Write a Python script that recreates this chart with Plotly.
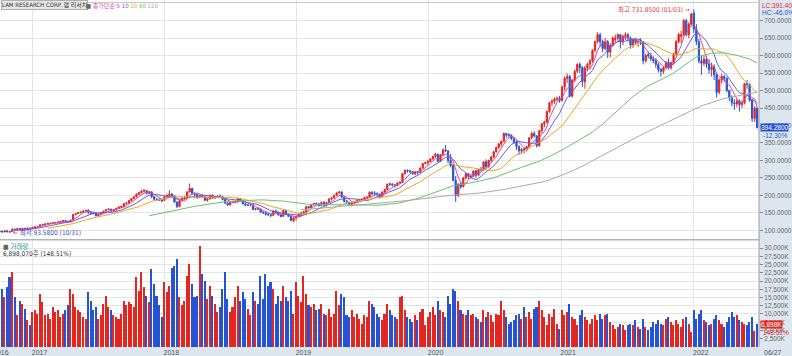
import pandas as pd
import plotly.graph_objects as go

# ---------------- data (weekly, LAM RESEARCH) ----------------
WEEK_START = "2016-10-03"
N_WEEKS = 300

open_ = [
    96.0, 97.5, 95.5, 98.6, 96.0, 96.5, 103.0, 102.0, 105.5, 101.5, 106.0, 105.0, 106.5,
    106.0, 108.5, 110.0, 110.8, 116.0, 117.0, 118.5, 120.0, 120.0, 122.0, 122.5, 124.0, 125.5,
    128.0, 126.0, 124.0, 130.0, 145.0, 148.0, 151.0, 152.0, 155.5, 157.5, 152.0, 149.0, 148.0,
    141.5, 145.0, 150.5, 155.0, 159.0, 160.5, 155.5, 158.5, 163.0, 167.0, 168.0, 176.0, 178.0,
    185.0, 191.0, 196.0, 203.0, 208.0, 212.0, 214.0, 206.0, 210.0, 196.0, 189.0, 188.0, 187.0,
    186.0, 196.0, 200.0, 204.0, 199.0, 181.0, 168.0, 185.0, 192.0, 193.0, 210.0, 220.0, 205.0,
    203.0, 195.0, 200.0, 196.0, 186.0, 190.0, 200.0, 193.0, 197.0, 198.0, 196.0, 188.0, 178.0,
    173.0, 180.0, 181.0, 182.0, 191.0, 185.0, 176.0, 172.0, 172.0, 173.0, 160.0, 162.0, 161.0,
    152.0, 150.0, 146.0, 145.0, 143.0, 155.0, 152.0, 144.0, 140.0, 157.0, 145.0, 140.0, 128.0,
    136.0, 140.0, 146.0, 150.0, 153.0, 168.0, 165.0, 173.0, 177.0, 176.0, 171.0, 180.0, 172.0,
    179.0, 190.0, 193.0, 200.0, 207.0, 210.0, 195.0, 183.0, 180.0, 174.0, 178.0, 180.0, 186.0,
    188.0, 189.0, 194.0, 195.0, 209.0, 207.0, 205.0, 203.0, 197.0, 210.0, 217.0, 233.5, 232.0,
    230.0, 228.0, 236.0, 237.0, 262.0, 272.0, 270.0, 268.0, 262.0, 267.0, 266.0, 278.0, 291.0,
    294.0, 297.0, 304.0, 311.0, 318.0, 298.0, 316.0, 330.0, 327.0, 300.0, 285.0, 243.0, 200.0,
    232.0, 225.0, 250.0, 262.0, 253.0, 255.0, 270.0, 258.0, 274.0, 273.0, 296.0, 283.0, 300.0,
    310.0, 325.0, 337.0, 347.0, 355.0, 377.0, 374.0, 372.0, 362.0, 352.0, 340.0, 327.0, 333.0,
    331.0, 340.0, 365.0, 377.0, 370.0, 342.0, 385.0, 405.0, 410.0, 440.0, 465.0, 470.0, 476.0,
    478.0, 472.0, 510.0, 535.0, 540.0, 484.0, 530.0, 555.0, 575.0, 566.0, 525.0, 565.0, 575.0,
    585.0, 615.0, 640.0, 660.0, 640.0, 620.0, 640.0, 610.0, 630.0, 646.0, 650.0, 660.0, 640.0,
    655.0, 660.0, 650.0, 630.0, 645.0, 637.0, 644.0, 640.0, 585.0, 603.0, 600.0, 590.0, 585.0,
    575.0, 560.0, 555.0, 565.0, 580.0, 565.0, 580.0, 605.0, 640.0, 655.0, 660.0, 700.0, 660.0,
    690.0, 722.0, 676.0, 640.0, 585.0, 578.0, 590.0, 575.0, 560.0, 568.0, 545.0, 495.0, 530.0,
    540.0, 535.0, 500.0, 480.0, 465.0, 462.0, 470.0, 460.0, 465.0, 520.0, 518.0, 472.0, 420.0, 449.6,
]
high = [
    98.5, 98.8, 99.6, 99.5, 97.5, 106.0, 104.8, 106.0, 106.4, 106.5, 107.5, 107.0, 107.0,
    109.5, 111.5, 112.0, 117.5, 118.5, 119.5, 121.0, 121.5, 123.0, 124.0, 125.0, 127.0, 129.5,
    129.0, 127.0, 130.0, 147.0, 149.5, 152.5, 154.0, 156.5, 159.0, 160.0, 154.0, 152.0, 149.0,
    146.5, 151.5, 156.0, 161.0, 164.0, 162.0, 160.0, 164.5, 168.5, 170.5, 177.5, 181.0, 187.0,
    193.0, 198.0, 206.0, 210.5, 216.0, 219.0, 215.0, 213.0, 212.0, 198.0, 193.0, 192.0, 188.0,
    197.0, 203.0, 215.0, 206.0, 201.0, 183.0, 187.0, 194.0, 199.0, 212.0, 234.0, 222.0, 209.0,
    205.0, 202.0, 204.0, 198.0, 192.0, 202.0, 203.0, 199.0, 201.0, 203.0, 198.0, 190.0, 180.0,
    181.5, 184.0, 185.0, 193.0, 192.0, 187.0, 178.0, 175.0, 175.0, 174.0, 164.0, 164.0, 162.0,
    155.0, 152.0, 150.0, 148.0, 157.0, 160.0, 154.0, 147.0, 159.0, 158.0, 148.0, 142.0, 137.0,
    141.0, 148.0, 151.5, 155.0, 170.0, 170.0, 174.5, 179.0, 180.0, 178.0, 182.0, 184.0, 181.0,
    191.0, 195.0, 202.0, 209.0, 212.0, 211.0, 197.0, 187.0, 182.0, 180.0, 183.0, 188.0, 190.0,
    191.0, 196.0, 197.0, 211.0, 212.0, 212.0, 209.0, 205.0, 211.0, 219.0, 234.0, 236.0, 235.0,
    233.0, 238.0, 241.0, 265.0, 274.0, 274.0, 273.0, 270.0, 268.0, 270.0, 280.0, 293.0, 296.0,
    301.0, 307.0, 314.0, 322.0, 319.0, 318.0, 335.0, 344.0, 330.0, 318.0, 290.0, 255.0, 235.0,
    238.0, 252.0, 265.0, 264.0, 262.0, 272.0, 274.0, 276.0, 282.0, 298.0, 303.0, 302.0, 313.0,
    327.0, 340.0, 350.0, 357.0, 380.0, 379.0, 378.0, 375.0, 365.0, 358.0, 343.0, 336.0, 337.0,
    342.0, 367.0, 382.0, 384.0, 373.0, 388.0, 407.0, 414.0, 443.0, 468.0, 475.0, 480.0, 483.0,
    485.0, 514.0, 540.0, 549.0, 545.0, 533.0, 560.0, 578.0, 580.0, 570.0, 570.0, 580.0, 590.0,
    618.0, 643.0, 667.0, 665.0, 646.0, 650.0, 645.0, 635.0, 655.0, 660.0, 664.0, 662.0, 660.0,
    667.0, 665.0, 655.0, 648.0, 650.0, 645.0, 650.0, 642.0, 605.0, 612.0, 608.0, 598.0, 592.0,
    580.0, 565.0, 570.0, 585.0, 592.0, 583.0, 608.0, 645.0, 665.0, 672.0, 705.0, 706.0, 695.0,
    722.0, 731.85, 690.0, 648.0, 600.0, 600.0, 598.0, 590.0, 580.0, 575.0, 552.0, 535.0, 548.0,
    545.0, 538.0, 503.0, 486.0, 476.0, 478.0, 475.0, 472.0, 522.0, 530.0, 520.0, 476.0, 455.0, 452.0,
]
low = [
    95.0, 94.6, 95.0, 95.0, 93.58, 96.0, 100.5, 101.5, 100.0, 101.0, 103.5, 104.5, 105.0,
    105.0, 107.5, 108.5, 110.0, 114.5, 116.0, 117.5, 118.5, 119.0, 120.5, 121.0, 123.0, 124.5,
    125.0, 122.0, 123.0, 129.0, 143.5, 146.5, 148.5, 151.0, 154.0, 146.0, 145.5, 146.0, 140.5,
    140.0, 143.5, 149.0, 153.5, 157.0, 153.0, 153.5, 157.0, 161.5, 164.0, 167.0, 174.0, 176.0,
    183.0, 189.0, 194.0, 201.0, 205.0, 209.0, 203.0, 204.0, 192.0, 185.0, 184.0, 184.0, 182.0,
    184.0, 193.0, 198.0, 196.0, 179.0, 164.0, 166.0, 183.0, 187.0, 191.0, 208.0, 203.0, 193.0,
    190.0, 192.0, 194.0, 184.0, 182.0, 188.0, 190.0, 191.0, 194.0, 194.0, 186.0, 176.0, 170.0,
    171.0, 178.0, 179.0, 180.0, 183.0, 174.0, 169.0, 169.0, 170.0, 158.0, 157.0, 158.0, 150.0,
    147.0, 142.0, 141.0, 138.0, 141.0, 150.0, 142.0, 137.0, 139.0, 144.0, 138.0, 126.0, 122.8,
    128.0, 138.0, 144.0, 147.0, 151.0, 162.0, 163.0, 171.0, 173.0, 168.0, 170.0, 170.0, 168.0,
    178.0, 187.0, 191.0, 198.0, 205.0, 193.0, 180.0, 176.0, 172.0, 168.0, 175.0, 178.0, 184.0,
    186.0, 187.0, 191.0, 193.0, 201.0, 198.0, 196.0, 191.0, 195.0, 207.0, 215.0, 227.0, 226.0,
    222.0, 226.0, 233.0, 235.0, 260.0, 265.0, 264.0, 259.0, 258.0, 260.0, 264.0, 277.0, 289.0,
    287.0, 295.0, 302.0, 308.0, 296.0, 296.0, 313.0, 325.0, 292.0, 280.0, 240.0, 181.4, 196.0,
    218.0, 223.0, 245.0, 247.0, 248.0, 253.0, 251.0, 256.0, 268.0, 271.0, 277.0, 279.0, 296.0,
    306.0, 322.0, 333.0, 340.0, 352.0, 365.0, 365.0, 358.0, 348.0, 330.0, 316.0, 318.0, 320.0,
    326.0, 338.0, 361.0, 366.0, 337.0, 340.0, 378.0, 395.0, 406.0, 436.0, 455.0, 462.0, 468.0,
    465.0, 468.0, 500.0, 522.0, 480.0, 480.0, 525.0, 550.0, 550.0, 510.0, 505.0, 555.0, 560.0,
    580.0, 610.0, 635.0, 625.0, 610.0, 615.0, 593.0, 595.0, 625.0, 638.0, 643.0, 620.0, 630.0,
    645.0, 640.0, 620.0, 622.0, 630.0, 625.0, 630.0, 575.0, 580.0, 592.0, 585.0, 578.0, 565.0,
    552.0, 540.0, 548.0, 560.0, 560.0, 560.0, 575.0, 600.0, 635.0, 635.0, 655.0, 655.0, 650.0,
    685.0, 665.0, 630.0, 578.0, 545.0, 570.0, 565.0, 548.0, 540.0, 530.0, 480.0, 490.0, 520.0,
    525.0, 495.0, 470.0, 455.0, 445.0, 452.0, 440.0, 450.0, 460.0, 505.0, 468.0, 410.0, 410.0, 391.4,
]
close = [
    97.6, 95.2, 98.4, 95.8, 95.6, 103.3, 101.9, 105.4, 101.0, 105.9, 104.6, 106.4, 105.7,
    108.5, 110.3, 110.6, 116.0, 116.8, 118.5, 120.0, 120.2, 122.0, 122.5, 124.0, 125.5, 128.4,
    126.0, 123.5, 129.0, 145.0, 148.0, 151.0, 152.0, 155.5, 157.0, 152.0, 149.0, 148.0, 141.4,
    145.0, 150.5, 155.0, 159.0, 160.5, 155.5, 158.5, 163.0, 167.0, 168.0, 176.0, 178.0, 185.0,
    191.0, 196.0, 203.0, 208.0, 212.0, 214.0, 206.0, 210.0, 196.0, 189.0, 188.0, 187.0, 184.1,
    196.0, 200.0, 204.0, 199.0, 181.0, 168.0, 185.0, 192.0, 193.0, 210.0, 220.0, 205.0, 203.2,
    195.0, 200.0, 196.0, 186.0, 190.0, 200.0, 193.0, 197.0, 198.0, 196.0, 188.0, 178.0, 172.9,
    180.0, 182.0, 182.0, 191.0, 185.0, 176.0, 172.0, 172.0, 173.0, 160.0, 162.0, 161.0, 152.0,
    150.0, 146.0, 145.0, 143.0, 155.0, 152.0, 144.0, 140.0, 157.0, 145.0, 140.0, 128.0, 136.2,
    140.0, 146.0, 150.0, 153.0, 168.0, 165.0, 173.0, 177.0, 176.0, 171.0, 180.0, 172.0, 179.0,
    190.0, 193.0, 200.0, 207.0, 210.0, 195.0, 183.0, 180.0, 174.0, 178.0, 180.0, 186.0, 188.0,
    189.0, 194.0, 195.0, 209.0, 205.0, 205.0, 203.0, 197.0, 210.0, 217.0, 232.0, 232.0, 230.0,
    228.0, 236.0, 237.0, 262.0, 272.0, 270.0, 268.0, 262.0, 267.0, 266.0, 278.0, 291.0, 294.0,
    297.0, 304.0, 311.0, 318.0, 298.0, 316.0, 330.0, 327.0, 300.0, 285.0, 243.0, 200.0, 232.0,
    225.0, 250.0, 262.0, 255.0, 255.0, 270.0, 258.0, 274.0, 273.0, 296.0, 283.0, 300.0, 310.0,
    325.0, 337.0, 347.0, 355.0, 377.0, 372.0, 372.0, 362.0, 352.0, 340.0, 327.0, 331.0, 331.0,
    340.0, 365.0, 377.0, 370.0, 342.0, 385.0, 405.0, 410.0, 440.0, 465.0, 470.0, 476.0, 478.0,
    472.0, 510.0, 535.0, 540.0, 484.0, 530.0, 555.0, 575.0, 566.0, 525.0, 565.0, 575.0, 585.0,
    615.0, 640.0, 660.0, 640.0, 620.0, 640.0, 610.0, 630.0, 650.0, 650.0, 660.0, 640.0, 655.0,
    660.0, 650.0, 630.0, 645.0, 637.0, 640.0, 640.0, 585.0, 600.0, 600.0, 590.0, 585.0, 575.0,
    560.0, 555.0, 565.0, 580.0, 565.0, 580.0, 605.0, 640.0, 660.0, 660.0, 700.0, 660.0, 690.0,
    719.0, 676.0, 640.0, 585.0, 578.0, 590.0, 575.0, 560.0, 568.0, 545.0, 495.0, 530.0, 540.0,
    535.0, 500.0, 480.0, 465.0, 462.0, 470.0, 460.0, 465.0, 520.0, 518.0, 472.0, 420.0, 449.6, 394.28,
]
volume_k = [
    24000, 17500, 15000, 18000, 21000, 22500, 15000, 9500, 14000, 13000, 11500, 8000, 6500,
    10500, 11000, 10000, 16000, 13500, 9500, 10000, 8500, 12000, 10500, 11000, 9000, 10000,
    11000, 12500, 17500, 16000, 12000, 11000, 10500, 9000, 8500, 16500, 14000, 11000, 12000,
    8500, 9500, 13000, 15500, 12000, 11000, 9500, 9000, 8500, 10000, 14000, 12500, 13500,
    13000, 12000, 21000, 17000, 22500, 18000, 15500, 13500, 23500, 19000, 15500, 12500, 9000,
    19500, 16500, 18500, 24000, 24500, 26500, 15000, 12500, 14000, 21500, 25000, 19000, 15000,
    15500, 30500, 22000, 20000, 14500, 18500, 15500, 13000, 10500, 12000, 17500, 22500, 14500,
    10500, 12000, 15000, 18500, 14000, 16500, 14500, 11500, 9500, 16500, 14000, 13000, 21500,
    14500, 22000, 18500, 19500, 17500, 13000, 15500, 14000, 18500, 15000, 14000, 17000, 10000,
    19500, 15500, 13500, 21500, 16000, 12500, 12000, 13000, 11000, 11500, 13000, 10000, 9500,
    11500, 9000, 10000, 17000, 12500, 16000, 15000, 9500, 9000, 11000, 9000, 10000, 8500,
    7000, 9500, 9000, 14000, 13000, 12000, 10000, 9000, 8000, 10000, 13000, 11000, 9500,
    9000, 8500, 15000, 15500, 11000, 9000, 8500, 7500, 9500, 8000, 10500, 11500, 6500,
    9000, 10500, 12000, 9500, 14000, 11000, 10500, 9000, 15500, 13000, 17500, 17000, 14000,
    11000, 10000, 9500, 11000, 9500, 10000, 9000, 8500, 7500, 11000, 9000, 10500, 9500,
    7500, 10000, 9500, 14000, 11000, 9000, 7000, 7500, 8000, 9500, 10000, 8500, 12000,
    9000, 10500, 8500, 11500, 12000, 14000, 11000, 9000, 6500, 10000, 9000, 11500, 7000,
    5500, 11000, 9500, 10500, 13000, 9000, 8500, 6500, 9500, 11000, 9000, 8000, 7000,
    8500, 9500, 8000, 10000, 8500, 9500, 10000, 7500, 6500, 5500, 6000, 7000, 6500,
    5000, 6500, 7000, 6500, 8000, 6000, 5500, 8500, 6000, 5000, 6000, 7500, 7000,
    8000, 7000, 6500, 8500, 9000, 7500, 6500, 8000, 7000, 6000, 8500, 9000, 7000,
    4500, 11000, 8500, 10000, 11000, 8000, 7500, 6500, 7000, 8500, 9500, 8000, 7000,
    6000, 7500, 9000, 10500, 9000, 9500, 8000, 7500, 7000, 6500, 7500, 9000, 4645, 6898,
]

MA_PERIODS = [5, 10, 20, 60, 120]
MA_COLORS = ["#e0489a", "#6a5ae0", "#eea51c", "#6cbf6c", "#a8a8a8"]

YEAR_TICKS = ["2017-01-02", "2018-01-01", "2019-01-01", "2020-01-01", "2021-01-01", "2022-01-03"]
YEAR_LABELS = ["2017", "2018", "2019", "2020", "2021", "2022"]
PRICE_TICKS = [100, 150, 200, 250, 300, 350, 400, 450, 500, 550, 600, 650, 700]
VOL_TICKS = [2500, 5000, 7500, 10000, 12500, 15000, 17500, 20000, 22500, 25000, 27500, 30000]

# ---------------- build ----------------
dates = pd.date_range(WEEK_START, periods=N_WEEKS, freq="7D")
df = pd.DataFrame({"o": open_, "h": high, "l": low, "c": close, "v": volume_k}, index=dates)

RED = "#e3261f"
BLUE = "#2553d4"
GRID = "#e4e4e4"
STRIP = "#dde5ef"
FONT = "Liberation Sans"
NARROW = "Liberation Sans Narrow, DejaVu Sans Condensed, Liberation Sans, Noto Sans CJK KR"
PW = 770.0  # plot width in px (for pixel-placed legend items)

fig = go.Figure()
fig.add_trace(go.Candlestick(
    x=df.index, open=df.o, high=df.h, low=df.l, close=df.c,
    increasing=dict(line=dict(color=RED, width=1), fillcolor=RED),
    decreasing=dict(line=dict(color=BLUE, width=1), fillcolor=BLUE),
    whiskerwidth=0, xaxis="x", yaxis="y", showlegend=False, hoverinfo="skip",
))
for n, col in zip(MA_PERIODS, MA_COLORS):
    fig.add_trace(go.Scatter(
        x=df.index, y=df.c.rolling(n).mean(), mode="lines",
        line=dict(color=col, width=1), xaxis="x", yaxis="y",
        showlegend=False, hoverinfo="skip",
    ))
vol_colors = [RED if c >= o else BLUE for o, c in zip(df.o, df.c)]
fig.add_trace(go.Bar(
    x=df.index, y=df.v, marker=dict(color=vol_colors, line=dict(width=0)),
    width=4.3 * 86400000, xaxis="x", yaxis="y2", showlegend=False, hoverinfo="skip",
))

PRICE_DOM = [0.3103, 1.0]
VOL_DOM = [0.0, 0.3075]

fig.update_layout(
    width=792, height=356,
    margin=dict(l=0, r=22, t=0, b=8),
    paper_bgcolor=STRIP, plot_bgcolor="white",
    font=dict(family=FONT, size=7, color="#444"),
    bargap=0,
    xaxis=dict(
        type="date", range=["2016-10-04", "2022-07-02"], domain=[0, 1], anchor="y2",
        rangeslider=dict(visible=False), showgrid=True, gridcolor=GRID, gridwidth=1,
        tickmode="array", tickvals=YEAR_TICKS, ticktext=YEAR_LABELS,
        tickfont=dict(size=7, color="#555"), ticks="", ticklabelshift=7,
        ticklabelstandoff=0, zeroline=False, showline=False,
    ),
    yaxis=dict(
        domain=PRICE_DOM, range=[74.3, 759.1], side="right", anchor="x",
        tickmode="array", tickvals=PRICE_TICKS,
        ticktext=[f"{v:.4f}" for v in PRICE_TICKS],
        tickfont=dict(size=6.5, color="#666"), ticks="outside", ticklen=3, tickcolor="#888",
        showgrid=True, gridcolor=GRID, zeroline=False, showline=False,
    ),
    yaxis2=dict(
        domain=VOL_DOM, range=[0, 32336], side="right", anchor="x",
        tickmode="array", tickvals=VOL_TICKS,
        ticktext=[f"{v:,}K" for v in VOL_TICKS],
        tickfont=dict(size=6.5, color="#666"), ticks="outside", ticklen=3, tickcolor="#888",
        showgrid=True, gridcolor=GRID, zeroline=False, showline=False,
    ),
)

fig.add_shape(type="line", xref="paper", yref="paper", x0=0, x1=1, y0=0.3089, y1=0.3089,
              line=dict(color="#9a9a9a", width=1))
fig.add_shape(type="line", xref="paper", yref="paper", x0=1, x1=1, y0=0, y1=1,
              line=dict(color="#9a9a9a", width=1))
fig.add_shape(type="line", xref="paper", yref="paper", x0=0, x1=1, y0=0.993, y1=0.993,
              line=dict(color="#c8c8c8", width=1))

# legend / title box
fig.add_annotation(xref="paper", yref="paper", x=1 / PW, y=0.999, xanchor="left", yanchor="top",
                   text="LAM RESEARCH CORP. 램 리서치", showarrow=False,
                   font=dict(family=NARROW, size=6, color="#333"),
                   bgcolor="#e6e6e6", bordercolor="#b0b0b0", borderwidth=1, borderpad=0)
fig.add_annotation(xref="paper", yref="paper", x=85 / PW, y=0.999, xanchor="left", yanchor="top",
                   text=("<span style='color:#666'>■</span> "
                         f"<span style='color:{MA_COLORS[0]}'>종가단순 5</span> "
                         f"<span style='color:{MA_COLORS[1]}'>10</span> "
                         f"<span style='color:{MA_COLORS[2]}'>20</span> "
                         f"<span style='color:{MA_COLORS[3]}'>60</span> "
                         f"<span style='color:{MA_COLORS[4]}'>120</span>"),
                   showarrow=False, font=dict(family=NARROW, size=6))

# high / low markers
hi_i = int(pd.Series(high).idxmax())
lo_i = int(pd.Series(low).idxmin())
fig.add_annotation(x=dates[hi_i], y=high[hi_i], xref="x", yref="y", xanchor="right", yanchor="middle",
                   xshift=-2, text=f"최고 {high[hi_i]:.4f} ({dates[hi_i]:%m/%d}) →", showarrow=False,
                   font=dict(family=NARROW, size=6.5, color="#e03a3a"))
fig.add_annotation(x=dates[lo_i], y=low[lo_i], xref="x", yref="y", xanchor="left", yanchor="middle",
                   xshift=1, text=f"← 최저 {low[lo_i]:.4f} ({dates[lo_i]:%m/%d})", showarrow=False,
                   font=dict(family=NARROW, size=6.5, color="#3a4fc8"))

# volume panel label
fig.add_annotation(xref="paper", yref="paper", x=0.001, y=0.3075, xanchor="left", yanchor="top",
                   text="<span style='color:#666'>■</span> 거래량", showarrow=False,
                   font=dict(family=NARROW, size=6.5, color="#2a9d9d"))
fig.add_annotation(xref="paper", yref="paper", x=0.001, y=0.3075, xanchor="left", yanchor="top",
                   yshift=-8, text=f"{volume_k[-1] * 1000 + 70:,}주 (148.51%)", showarrow=False,
                   font=dict(family=NARROW, size=6.5, color="#333"))

# right-strip current value labels
fig.add_annotation(xref="paper", yref="y", x=1, y=close[-1], xanchor="left", yanchor="middle",
                   xshift=1, text=f"{close[-1]:.4f}", showarrow=False, bgcolor=BLUE,
                   font=dict(size=6.5, color="white"), borderpad=0)
fig.add_annotation(xref="paper", yref="y", x=1, y=close[-1], xanchor="left", yanchor="middle",
                   xshift=2, yshift=-8, text=f"{(close[-1] / close[-2] - 1) * 100:.2f}%",
                   showarrow=False, font=dict(size=6.5, color=BLUE))
fig.add_annotation(xref="paper", yref="y2", x=1, y=volume_k[-1], xanchor="left", yanchor="middle",
                   xshift=1, text=f"{volume_k[-1]:,}K", showarrow=False, bgcolor=RED,
                   font=dict(size=6.5, color="white"), borderpad=0)
fig.add_annotation(xref="paper", yref="y2", x=1, y=volume_k[-1], xanchor="left", yanchor="middle",
                   xshift=2, yshift=-8, text="148.51%", showarrow=False, font=dict(size=6.5, color=RED))
fig.add_annotation(xref="paper", yref="paper", x=1, y=1, xanchor="left", yanchor="top", xshift=1,
                   text=f"LC:{low[-1]:.4f}", showarrow=False, font=dict(size=6.5, color=RED))
fig.add_annotation(xref="paper", yref="paper", x=1, y=1, xanchor="left", yanchor="top", xshift=1,
                   yshift=-7, text="HC:-46.0%", showarrow=False, font=dict(size=6.5, color=BLUE))

# x-axis end labels
fig.add_annotation(xref="paper", yref="paper", x=1, y=0, xanchor="left", yanchor="top", xshift=3,
                   text=f"{dates[-1]:%m/%d}", showarrow=False, font=dict(size=7, color="#555"))
fig.add_annotation(xref="paper", yref="paper", x=0, y=0, xanchor="right", yanchor="top", xshift=11,
                   text="2016", showarrow=False, font=dict(size=7, color="#555"))

fig.write_html("out.html", config={"displayModeBar": False},
               post_script="document.body.style.margin='0px';")
